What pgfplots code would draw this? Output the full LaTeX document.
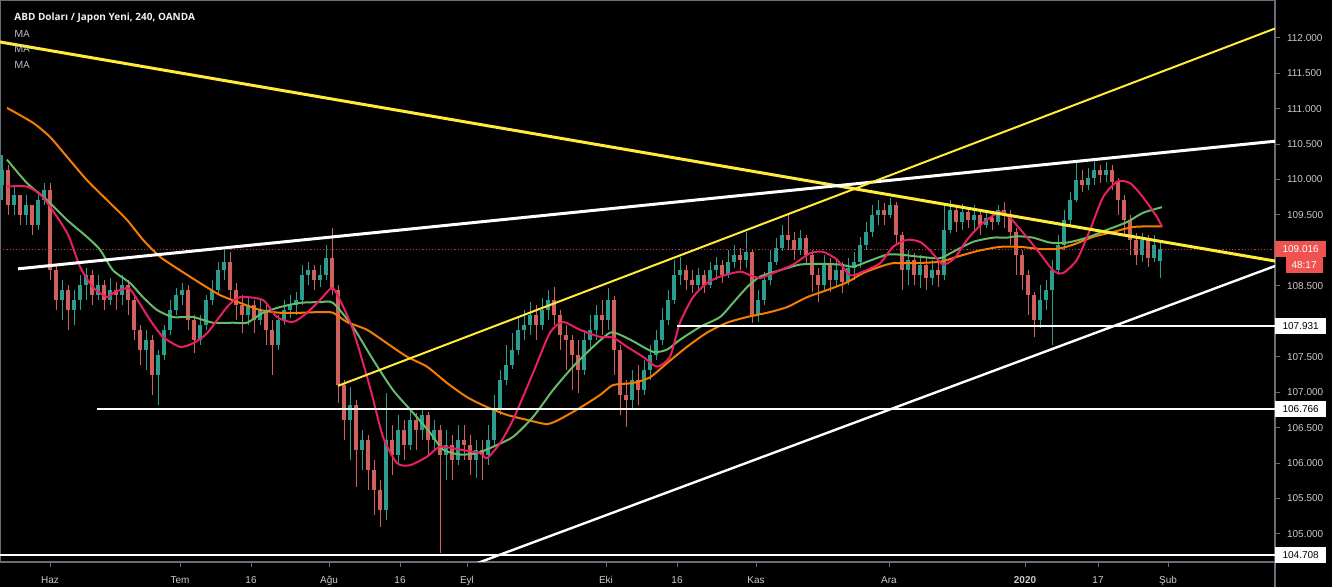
\documentclass[border=0pt]{standalone}
\usepackage{pgfplots}
\pgfplotsset{compat=1.18}
\usepackage{pgfplotstable}
\usepackage{fontspec}
\setmainfont{Liberation Sans}
\newfontfamily\titlefont{Open Sans}
\definecolor{bull}{HTML}{2A9D8F}
\definecolor{bear}{HTML}{D0605B}
\definecolor{maRed}{HTML}{E91E63}
\definecolor{maGreen}{HTML}{66BB6A}
\definecolor{maOrange}{HTML}{F57C00}
\definecolor{tvYellow}{HTML}{FFEB3B}
\definecolor{axisgray}{HTML}{6A6D78}
\definecolor{lbl}{HTML}{C8CAD0}
\definecolor{tagred}{HTML}{EF5350}

\pgfplotstableread{
x o h l c
2 109.92 110.35 109.71 110.13
8 110.13 110.21 109.50 109.64
14 109.64 109.92 109.50 109.78
20 109.78 109.78 109.36 109.50
26 109.50 109.78 109.36 109.64
32 109.64 109.64 109.22 109.36
38 109.36 109.78 109.29 109.71
44 109.71 109.95 109.64 109.85
50 109.85 109.95 108.58 108.72
56 108.72 108.80 108.16 108.30
62 108.30 108.58 108.02 108.44
68 108.44 108.51 107.88 108.16
74 108.16 108.44 107.95 108.30
80 108.30 108.65 108.16 108.51
86 108.51 108.75 108.30 108.65
92 108.65 108.72 108.23 108.37
98 108.37 108.65 108.30 108.51
104 108.51 108.58 108.16 108.30
110 108.30 108.61 108.23 108.44
116 108.44 108.56 108.16 108.37
122 108.37 108.65 108.23 108.51
128 108.51 108.58 108.09 108.30
134 108.30 108.37 107.74 107.88
140 107.88 107.95 107.38 107.60
146 107.60 107.88 107.31 107.74
152 107.74 107.81 106.96 107.24
158 107.24 107.60 106.82 107.53
164 107.53 107.95 107.46 107.88
170 107.88 108.30 107.81 108.16
176 108.16 108.47 108.09 108.37
182 108.37 108.54 108.23 108.44
188 108.44 108.51 107.88 108.02
194 108.02 108.09 107.55 107.74
200 107.74 108.09 107.67 107.95
206 107.95 108.37 107.88 108.30
212 108.30 108.58 108.23 108.44
218 108.44 108.84 108.37 108.72
224 108.72 109.01 108.58 108.84
230 108.84 108.98 108.30 108.44
236 108.44 108.54 108.02 108.23
242 108.23 108.37 107.84 108.09
248 108.09 108.33 107.95 108.23
254 108.23 108.30 107.84 108.02
260 108.02 108.30 107.95 108.16
266 108.16 108.23 107.67 107.88
272 107.88 108.02 107.24 107.67
278 107.67 108.09 107.60 108.02
284 108.02 108.30 107.95 108.16
290 108.16 108.37 108.05 108.23
296 108.23 108.41 108.09 108.30
302 108.30 108.80 108.23 108.65
308 108.65 108.84 108.51 108.72
314 108.72 108.80 108.44 108.58
320 108.58 108.80 108.48 108.65
326 108.65 109.08 108.58 108.89
332 108.89 109.32 108.37 108.44
338 108.44 108.51 106.85 107.10
344 107.10 107.17 106.33 106.61
350 106.61 107.07 106.04 106.82
356 106.82 106.89 105.66 106.19
362 106.19 106.47 105.90 106.33
368 106.33 106.40 105.62 105.90
374 105.90 106.04 105.27 105.62
380 105.62 105.76 105.10 105.34
386 105.34 106.99 105.20 106.33
392 106.33 106.54 105.83 106.12
398 106.12 106.68 105.97 106.47
404 106.47 106.61 106.04 106.26
410 106.26 106.75 106.19 106.61
416 106.61 106.71 106.19 106.47
422 106.47 106.78 106.33 106.68
428 106.68 106.72 106.12 106.33
434 106.33 106.61 106.19 106.47
440 106.47 106.54 104.73 106.12
446 106.12 106.47 105.76 106.26
452 106.26 106.40 105.76 106.04
458 106.04 106.54 105.97 106.33
464 106.33 106.54 106.04 106.26
470 106.26 106.40 105.83 106.04
476 106.04 106.33 105.79 106.19
482 106.19 106.33 105.76 106.12
488 106.12 106.54 105.97 106.33
494 106.33 106.96 106.26 106.75
500 106.75 107.31 106.68 107.17
506 107.17 107.67 107.10 107.38
512 107.38 107.84 107.33 107.60
518 107.60 108.05 107.53 107.88
524 107.88 108.16 107.74 107.95
530 107.95 108.27 107.81 108.09
536 108.09 108.23 107.74 107.95
542 107.95 108.33 107.88 108.16
548 108.16 108.44 108.02 108.30
554 108.30 108.48 107.95 108.09
560 108.09 108.16 107.60 107.81
566 107.81 107.95 107.31 107.74
572 107.74 107.81 107.03 107.53
578 107.53 107.74 106.99 107.31
584 107.31 107.88 107.24 107.74
590 107.74 108.09 107.60 107.88
596 107.88 108.23 107.74 108.09
602 108.09 108.30 107.81 108.02
608 108.02 108.47 107.88 108.30
614 108.30 108.35 107.24 107.60
620 107.60 107.67 106.68 106.96
626 106.96 107.17 106.51 106.89
632 106.89 107.31 106.75 107.17
638 107.17 107.38 106.82 107.03
644 107.03 107.46 106.96 107.31
650 107.31 107.67 107.17 107.53
656 107.53 107.88 107.46 107.74
662 107.74 108.19 107.67 108.02
668 108.02 108.44 107.95 108.30
674 108.30 108.87 108.25 108.65
680 108.65 108.91 108.51 108.72
686 108.72 108.80 108.44 108.58
692 108.58 108.72 108.40 108.51
698 108.51 108.75 108.44 108.65
704 108.65 108.72 108.40 108.51
710 108.51 108.84 108.47 108.72
716 108.72 108.91 108.58 108.80
722 108.80 108.87 108.54 108.65
728 108.65 109.01 108.61 108.84
734 108.84 109.08 108.75 108.94
740 108.94 109.03 108.72 108.87
746 108.87 109.26 108.75 108.98
752 108.98 109.01 107.98 108.09
758 108.09 108.44 107.99 108.30
764 108.30 108.70 108.23 108.58
770 108.58 109.01 108.51 108.84
776 108.84 109.18 108.80 109.03
782 109.03 109.36 108.99 109.22
788 109.22 109.50 109.01 109.15
794 109.15 109.26 108.87 109.01
800 109.01 109.29 108.94 109.18
806 109.18 109.22 108.80 108.94
812 108.94 109.01 108.41 108.65
818 108.65 108.75 108.27 108.51
824 108.51 108.94 108.44 108.80
830 108.80 108.89 108.41 108.58
836 108.58 108.89 108.48 108.72
842 108.72 108.84 108.40 108.56
848 108.56 108.89 108.51 108.75
854 108.75 108.98 108.58 108.84
860 108.84 109.19 108.75 109.08
866 109.08 109.40 109.01 109.26
872 109.26 109.64 109.19 109.50
878 109.50 109.71 109.36 109.57
884 109.57 109.67 109.36 109.50
890 109.50 109.74 109.46 109.64
896 109.64 109.68 109.08 109.22
902 109.22 109.26 108.44 108.72
908 108.72 109.01 108.51 108.87
914 108.87 108.96 108.51 108.65
920 108.65 108.94 108.47 108.80
926 108.80 108.89 108.44 108.61
932 108.61 108.87 108.51 108.72
938 108.72 108.84 108.48 108.65
944 108.65 109.64 108.58 109.29
950 109.29 109.71 109.24 109.57
956 109.57 109.64 109.26 109.40
962 109.40 109.66 109.29 109.54
968 109.54 109.60 109.32 109.43
974 109.43 109.64 109.29 109.50
980 109.50 109.57 109.22 109.36
986 109.36 109.57 109.32 109.46
992 109.46 109.54 109.29 109.40
998 109.40 109.64 109.36 109.57
1004 109.57 109.68 109.32 109.50
1010 109.50 109.57 109.08 109.26
1016 109.26 109.32 108.65 108.94
1022 108.94 109.01 108.44 108.65
1028 108.65 108.72 108.09 108.37
1034 108.37 108.41 107.78 108.02
1040 108.02 108.51 107.91 108.30
1046 108.30 108.58 108.16 108.44
1052 108.44 108.87 107.67 108.72
1058 108.72 109.22 108.65 109.08
1064 109.08 109.57 109.01 109.43
1070 109.43 109.82 109.36 109.71
1076 109.71 110.23 109.68 109.99
1082 109.99 110.13 109.82 109.92
1088 109.92 110.16 109.85 110.02
1094 110.02 110.30 109.92 110.13
1100 110.13 110.21 109.95 110.06
1106 110.06 110.25 109.97 110.13
1112 110.13 110.21 109.85 109.97
1118 109.97 110.02 109.50 109.71
1124 109.71 109.78 109.22 109.43
1130 109.43 109.50 108.94 109.15
1136 109.15 109.25 108.80 108.94
1142 108.94 109.25 108.84 109.15
1148 109.15 109.22 108.77 108.89
1154 108.89 109.22 108.84 109.08
1160 108.85 109.12 108.61 109.02
}\candles

\begin{document}
\begin{tikzpicture}
\useasboundingbox (0,-12.5pt) rectangle (666pt,281pt);
\fill[black] (0,-12.5pt) rectangle (666pt,281pt);
\begin{axis}[
  at={(0,0)}, anchor=south west,
  width=637.5pt, height=281pt, scale only axis,
  xmin=0, xmax=1275, ymin=104.605, ymax=112.532,
  axis line style={draw=axisgray, line width=0.6pt},
  xtick={50,180,251,329,400,467,606,677,756,889,1025,1098,1168},
  xticklabels={Haz,Tem,16,Ağu,16,Eyl,Eki,16,Kas,Ara,\textbf{2020},17,Şub},
  ytick={105,105.5,106,106.5,107,107.5,108.5,109.5,110,110.5,111,111.5,112},
  xtick pos=bottom, ytick pos=right, yticklabel pos=right,
  tick align=outside, major tick length=2.5pt,
  tick style={draw=axisgray, line width=0.5pt},
  ticklabel style={font=\fontsize{5}{6}\selectfont, text=lbl},
  yticklabel style={/pgf/number format/fixed, /pgf/number format/fixed zerofill,
    /pgf/number format/precision=3, /pgf/number format/assume math mode=true},
  xticklabel style={yshift=-1.2pt},
  scaled y ticks=false,
  candle/.style={draw=none, mark=none, forget plot, restrict y to domain=100:120},
]
% wicks
\addplot[candle, error bars/.cd, y dir=plus, y explicit, error mark=none,
  error bar style={line width=0.5pt, draw=bull}]
  table[x=x, y expr={\thisrow{c}>=\thisrow{o} ? \thisrow{l} : -1000},
        y error expr={\thisrow{h}-\thisrow{l}}] {\candles};
\addplot[candle, error bars/.cd, y dir=plus, y explicit, error mark=none,
  error bar style={line width=0.5pt, draw=bear}]
  table[x=x, y expr={\thisrow{c}<\thisrow{o} ? \thisrow{l} : -1000},
        y error expr={\thisrow{h}-\thisrow{l}}] {\candles};
% bodies
\addplot[candle, error bars/.cd, y dir=plus, y explicit, error mark=none,
  error bar style={line width=1.6pt, draw=bull}]
  table[x=x, y expr={\thisrow{c}>=\thisrow{o} ? \thisrow{o} : -1000},
        y error expr={\thisrow{c}-\thisrow{o}}] {\candles};
\addplot[candle, error bars/.cd, y dir=plus, y explicit, error mark=none,
  error bar style={line width=1.6pt, draw=bear}]
  table[x=x, y expr={\thisrow{c}<\thisrow{o} ? \thisrow{c} : -1000},
        y error expr={\thisrow{o}-\thisrow{c}}] {\candles};

% current price dotted line
\addplot[tagred!75!black, line width=0.45pt, dash pattern=on 0.6pt off 1pt] coordinates {(0,109.016) (1275,109.016)};

% moving averages
\addplot[maOrange, line width=1pt, smooth, tension=0.4] coordinates {
(7,111.01)(33,110.80)(50,110.60)(67,110.32)(87,109.99)(107,109.71)(127,109.43)(143,109.15)(160,108.91)(180,108.72)(200,108.54)(220,108.37)(240,108.26)(260,108.16)(280,108.12)(300,108.12)(320,108.13)(333,108.12)(347,107.99)(367,107.88)(387,107.69)(407,107.50)(427,107.36)(447,107.13)(467,106.93)(487,106.79)(507,106.68)(527,106.61)(547,106.55)(560,106.62)(580,106.78)(600,106.96)(613,107.10)(633,107.13)(650,107.21)(667,107.41)(687,107.64)(707,107.84)(727,107.98)(747,108.06)(767,108.12)(787,108.20)(807,108.34)(827,108.44)(847,108.55)(863,108.68)(880,108.77)(893,108.82)(913,108.82)(940,108.84)(957,108.91)(977,108.99)(1000,109.05)(1020,109.05)(1040,109.02)(1057,109.02)(1073,109.08)(1093,109.19)(1113,109.26)(1133,109.33)(1153,109.34)(1162,109.34)};
\addplot[maGreen, line width=1pt, smooth, tension=0.4] coordinates {
(7,110.28)(27,109.95)(47,109.71)(67,109.43)(87,109.19)(100,109.01)(113,108.72)(130,108.54)(143,108.34)(157,108.16)(173,108.06)(193,108.06)(213,107.98)(233,107.98)(247,107.98)(263,108.12)(280,108.20)(300,108.26)(320,108.27)(333,108.26)(353,107.92)(373,107.46)(393,107.03)(413,106.71)(430,106.43)(443,106.19)(460,106.12)(477,106.14)(493,106.23)(513,106.37)(533,106.65)(553,107.03)(573,107.36)(593,107.64)(610,107.84)(620,107.81)(633,107.72)(653,107.57)(667,107.60)(680,107.74)(700,107.92)(720,108.06)(733,108.26)(747,108.48)(760,108.63)(780,108.72)(800,108.80)(820,108.81)(840,108.80)(853,108.77)(867,108.84)(887,108.94)(900,108.94)(920,108.91)(940,108.89)(953,108.98)(973,109.12)(993,109.18)(1007,109.18)(1017,109.20)(1033,109.18)(1050,109.11)(1067,109.11)(1087,109.18)(1107,109.29)(1127,109.40)(1143,109.53)(1162,109.61)};
\addplot[maRed, line width=1pt, smooth, tension=0.4] coordinates {
(7,109.90)(27,109.90)(43,109.75)(67,109.25)(80,108.77)(93,108.48)(107,108.34)(113,108.40)(127,108.47)(133,108.40)(150,108.02)(163,107.78)(180,107.64)(193,107.69)(207,107.83)(227,108.20)(240,108.34)(263,108.30)(277,108.06)(293,107.99)(307,108.12)(320,108.30)(332,108.47)(340,108.30)(353,107.88)(370,107.07)(383,106.37)(397,106.00)(410,105.97)(427,106.09)(440,106.23)(460,106.19)(480,106.14)(487,106.07)(500,106.28)(513,106.61)(533,107.27)(550,107.84)(563,107.99)(580,107.88)(600,107.78)(613,107.77)(627,107.64)(643,107.50)(657,107.36)(670,107.50)(680,107.98)(693,108.34)(707,108.54)(720,108.63)(740,108.70)(750,108.65)(760,108.61)(773,108.68)(793,108.80)(810,108.96)(823,108.98)(837,108.87)(850,108.65)(863,108.70)(880,108.82)(893,109.05)(907,109.15)(920,109.12)(930,109.00)(943,108.80)(955,108.90)(967,109.15)(983,109.39)(1000,109.54)(1010,109.46)(1023,109.25)(1037,109.01)(1053,108.72)(1063,108.68)(1077,108.87)(1090,109.29)(1103,109.75)(1117,109.97)(1130,109.95)(1143,109.75)(1157,109.47)(1162,109.33)};

% horizontal levels
\addplot[white, line width=1pt] coordinates {(0,104.708) (1275,104.708)};
\addplot[white, line width=0.8pt] coordinates {(97,106.766) (1275,106.766)};
\addplot[white, line width=1pt] coordinates {(677,107.931) (1275,107.931)};
% trend lines
\addplot[tvYellow, line width=1.5pt] coordinates {(0,111.94) (1275,108.85)};
\addplot[white, line width=1.5pt] coordinates {(18,108.74) (1275,110.54)};
\addplot[tvYellow, line width=1pt] coordinates {(338,107.09) (1275,112.13)};
\addplot[white, line width=1.2pt] coordinates {(470,104.55) (1275,108.78)};

\coordinate (P1) at (axis cs:1275,109.016);
\coordinate (P2) at (axis cs:1275,107.931);
\coordinate (P3) at (axis cs:1275,106.766);
\coordinate (P4) at (axis cs:1275,104.708);
\end{axis}
\draw[axisgray, line width=0.6pt] (637.5pt,0) -- (637.5pt,-12.5pt);
\tikzset{tag/.style={anchor=west, inner xsep=3.6pt, inner ysep=0pt, minimum height=8pt,
  text height=3.6pt, text depth=0pt, font=\fontsize{5}{6}\selectfont}}
\node[tag, fill=tagred, text=white] at (P1) {109.016};
\node[anchor=north east, fill=tagred, text=white, inner xsep=3pt, inner ysep=0pt, minimum height=8pt,
  text height=3.6pt, text depth=0pt, font=\fontsize{5}{6}\selectfont] at (661.5pt,152.5pt) {48:17};
\node[tag, fill=white, text=black] at (P2) {107.931};
\node[tag, fill=white, text=black] at (P3) {106.766};
\node[tag, fill=white, text=black] at (P4) {104.708};
% title and legend
\node[anchor=base west, inner sep=0pt, text=white!88!gray, font=\titlefont\bfseries\fontsize{5}{6}\selectfont] at (7pt,270.5pt) {ABD Doları / Japon Yeni, 240, OANDA};
\node[anchor=base west, inner sep=0pt, text=lbl, font=\titlefont\fontsize{5}{6}\selectfont] at (7pt,262.2pt) {MA};
\node[anchor=base west, inner sep=0pt, text=lbl, font=\titlefont\fontsize{5}{6}\selectfont] at (7pt,254.5pt) {MA};
\node[anchor=base west, inner sep=0pt, text=lbl, font=\titlefont\fontsize{5}{6}\selectfont] at (7pt,246.8pt) {MA};
\end{tikzpicture}
\end{document}
